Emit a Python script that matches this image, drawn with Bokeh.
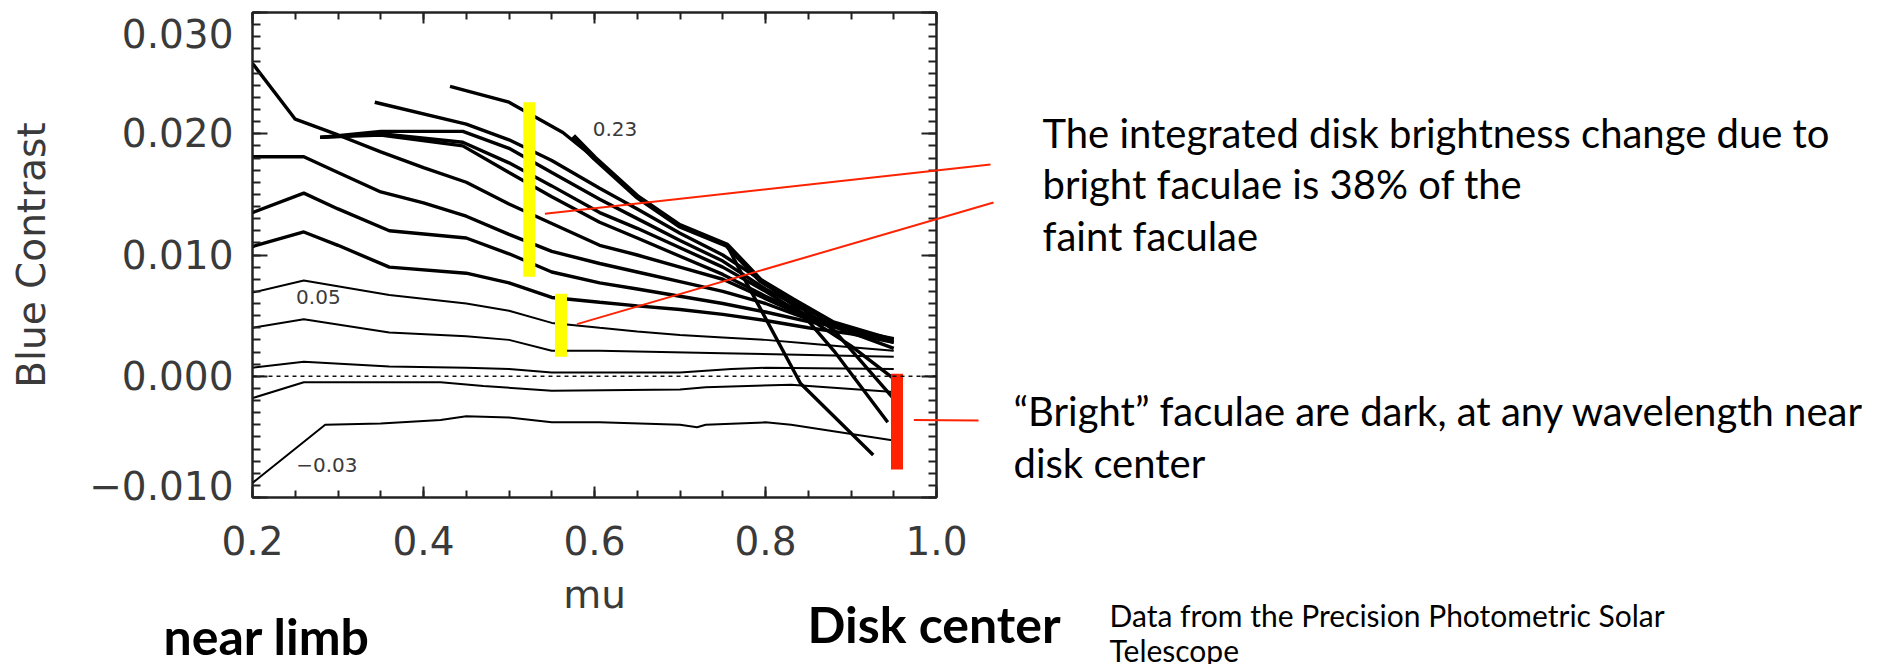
from bokeh.plotting import figure
from bokeh.layouts import column
from bokeh.models import (LinearAxis, FixedTicker, CustomJSTickFormatter, Span,
                          Label, Range1d)
from bokeh.embed import file_html
from bokeh.resources import INLINE

# ---- axis ticks and labels ----
x_major = [0.2, 0.4, 0.6, 0.8, 1.0]
x_major_labels = ["0.2", "0.4", "0.6", "0.8", "1.0"]
x_minor = [round(0.2 + 0.05 * i, 2) for i in range(17)]
y_major = [-0.01, 0.0, 0.01, 0.02, 0.03]
y_major_labels = ["\u22120.010", "0.000", "0.010", "0.020", "0.030"]
y_minor = [round(-0.01 + 0.001 * i, 3) for i in range(41)]

# ---- blue contrast against mu ----
# heavy curves (upper family)
mu_c1 = [0.20, 0.25, 0.30, 0.35, 0.40, 0.45, 0.50, 0.55, 0.606, 0.65, 0.70, 0.75, 0.80, 0.85, 0.90, 0.95]
c1 = [0.0258, 0.0212, 0.0199, 0.0185, 0.0172, 0.0160, 0.0142, 0.0126, 0.0108, 0.0100, 0.0090, 0.0080, 0.0064, 0.0048, 0.0036, 0.0023]

mu_c2 = [0.20, 0.26, 0.30, 0.35, 0.40, 0.45, 0.50, 0.55, 0.606, 0.65, 0.70, 0.75, 0.80, 0.85, 0.90, 0.95]
c2 = [0.0181, 0.0181, 0.0168, 0.0152, 0.0143, 0.0132, 0.0117, 0.0103, 0.0093, 0.0086, 0.0078, 0.0070, 0.0060, 0.0047, 0.0038, 0.0031]

mu_c3 = [0.20, 0.26, 0.30, 0.36, 0.45, 0.50, 0.55, 0.606, 0.65, 0.70, 0.75, 0.80, 0.85, 0.90, 0.95]
c3 = [0.0135, 0.0151, 0.0138, 0.0120, 0.0114, 0.0101, 0.0086, 0.0077, 0.0072, 0.0066, 0.0060, 0.0053, 0.0045, 0.0039, 0.0030]

mu_c4 = [0.20, 0.26, 0.30, 0.36, 0.45, 0.50, 0.55, 0.606, 0.65, 0.70, 0.75, 0.80, 0.85, 0.90, 0.95]
c4 = [0.0107, 0.0119, 0.0108, 0.0090, 0.0085, 0.0077, 0.0065, 0.0061, 0.0058, 0.0055, 0.0051, 0.0046, 0.0040, 0.0035, 0.0028]

mu_c10 = [0.279, 0.35, 0.446, 0.50, 0.55, 0.606, 0.65, 0.70, 0.75, 0.80, 0.84, 0.88, 0.948]
c10 = [0.0197, 0.0202, 0.0202, 0.0188, 0.0168, 0.0146, 0.0130, 0.0112, 0.0095, 0.0072, 0.0057, 0.0038, -0.0017]

mu_c10b = [0.279, 0.35, 0.446, 0.50, 0.55, 0.606, 0.65, 0.70, 0.75, 0.80, 0.85, 0.90, 0.948]
c10b = [0.0197, 0.0200, 0.0193, 0.0176, 0.0157, 0.0135, 0.0122, 0.0106, 0.0090, 0.0070, 0.0048, 0.0025, -0.0001]

mu_c10c = [0.279, 0.35, 0.446, 0.50, 0.55, 0.606, 0.65, 0.70, 0.75, 0.80, 0.85, 0.90, 0.95]
c10c = [0.0197, 0.0199, 0.0190, 0.0168, 0.0148, 0.0127, 0.0114, 0.0099, 0.0084, 0.0066, 0.0050, 0.0038, 0.0028]

mu_c11 = [0.343, 0.45, 0.50, 0.55, 0.606, 0.65, 0.70, 0.75, 0.80, 0.84, 0.88, 0.943]
c11 = [0.0226, 0.0208, 0.0195, 0.0178, 0.0155, 0.0138, 0.0118, 0.0100, 0.0077, 0.0054, 0.0021, -0.0038]

mu_c12 = [0.431, 0.50, 0.563, 0.60, 0.65, 0.70, 0.755, 0.774, 0.841, 0.926]
c12 = [0.0239, 0.0226, 0.0201, 0.0180, 0.0148, 0.0124, 0.0108, 0.0082, -0.0006, -0.0065]

# the 0.23 curve
mu_c23 = [0.575, 0.60, 0.65, 0.70, 0.755, 0.794, 0.832, 0.879, 0.946]
c23 = [0.0198, 0.0180, 0.0148, 0.0124, 0.0108, 0.0079, 0.0063, 0.0044, 0.0030]

# thin curves (lower family)
mu_c5 = [0.20, 0.26, 0.36, 0.45, 0.50, 0.55, 0.606, 0.65, 0.70, 0.75, 0.80, 0.85, 0.90, 0.95]
c5 = [0.0069, 0.0079, 0.0067, 0.0060, 0.0054, 0.0044, 0.0040, 0.0037, 0.0034, 0.0032, 0.0030, 0.0027, 0.0024, 0.0021]

mu_c6 = [0.20, 0.26, 0.36, 0.45, 0.50, 0.55, 0.606, 0.75, 0.95]
c6 = [0.0040, 0.0047, 0.0036, 0.0033, 0.0030, 0.0021, 0.0021, 0.0019, 0.0016]

mu_c7 = [0.20, 0.26, 0.36, 0.45, 0.50, 0.55, 0.70, 0.76, 0.80, 0.95]
c7 = [0.0007, 0.0012, 0.0008, 0.0007, 0.0006, 0.0003, 0.0003, 0.0006, 0.0007, 0.0006]

mu_c8 = [0.20, 0.26, 0.42, 0.47, 0.55, 0.70, 0.73, 0.83, 0.95]
c8 = [-0.0018, -0.0005, -0.0005, -0.0008, -0.0012, -0.0011, -0.0009, -0.0007, -0.0013]

mu_c9 = [0.20, 0.285, 0.35, 0.42, 0.45, 0.50, 0.55, 0.606, 0.70, 0.72, 0.73, 0.80, 0.83, 0.95]
c9 = [-0.0088, -0.0040, -0.0039, -0.0036, -0.0033, -0.0034, -0.0038, -0.0038, -0.0040, -0.0042, -0.0040, -0.0038, -0.0040, -0.0053]

heavy = [(mu_c1, c1), (mu_c2, c2), (mu_c3, c3), (mu_c4, c4), (mu_c10, c10),
         (mu_c10b, c10b), (mu_c10c, c10c), (mu_c11, c11), (mu_c12, c12)]
light = [(mu_c5, c5), (mu_c6, c6), (mu_c7, c7), (mu_c8, c8), (mu_c9, c9)]

# curve tags written on the plot
tag_text = ["0.23", "0.05", "\u22120.03"]
tag_mu = [0.624, 0.277, 0.287]
tag_val = [0.0204, 0.0065, -0.0073]

# highlight bars (mu centre, bottom, top)
yellow_mu = [0.5237, 0.5608]
yellow_bottom = [0.0082, 0.0016]
yellow_top = [0.0226, 0.0068]
red_mu = [0.9538]
red_bottom = [-0.0077]
red_top = [0.0002]

# leader lines: start next to a bar (mu, contrast), end beside a note (page px)
leader_mu = [0.542, 0.5795, 0.9735]
leader_val = [0.0134, 0.0043, -0.0036]
leader_end_x = [990, 993, 978]
leader_end_y = [164, 202, 420]

# notes around the chart: text, left x, centre y (page px), weight, size
notes = [
    ("The integrated disk brightness change due to", 1042, 132, "normal", 40),
    ("bright faculae is 38% of the", 1042, 183, "normal", 40),
    ("faint faculae", 1042, 235, "normal", 40),
    ("\u201cBright\u201d faculae are dark, at any wavelength near", 1013, 410, "normal", 40),
    ("disk center", 1013, 462, "normal", 40),
    ("near limb", 163, 635, "bold", 50),
    ("Disk center", 807, 623, "bold", 50),
    ("Data from the Precision Photometric Solar", 1109, 614, "normal", 30),
    ("Telescope", 1109, 649, "normal", 30),
]

W, H = 1895, 664
LEFT, RIGHT, TOP, BOTTOM = 252, 959, 12, 167
X0, X1, Y0, Y1 = 0.2, 1.0, -0.010, 0.030
px_per_x = (W - LEFT - RIGHT) / (X1 - X0)
px_per_y = (H - TOP - BOTTOM) / (Y1 - Y0)


def page_x(mu):
    return LEFT + (mu - X0) * px_per_x


def page_y(v):
    return TOP + (Y1 - v) * px_per_y


AXIS_FONT = "DejaVu Sans"
AXIS_COLOR = "#3a3a3a"
NOTE_FONT = "Lato"

p = figure(width=W, height=H, output_backend="svg", toolbar_location=None,
           x_range=Range1d(X0, X1), y_range=Range1d(Y0, Y1),
           x_axis_location=None, y_axis_location=None,
           min_border_left=LEFT, min_border_right=RIGHT,
           min_border_top=TOP, min_border_bottom=BOTTOM,
           background_fill_color="white", border_fill_color="white")
p.grid.visible = False
p.outline_line_color = "#222222"
p.outline_line_width = 2


def fmt(tvals, tlabels, shift_ends):
    # the extreme labels sit just inside the frame, as in the original plot
    return CustomJSTickFormatter(args=dict(tvals=tvals, tlabels=tlabels, shift=shift_ends), code="""
        let best = 0, d = 1e9;
        for (let i = 0; i < tvals.length; i++) {
            const e = Math.abs(tvals[i] - tick);
            if (e < d) { d = e; best = i; }
        }
        const s = tlabels[best];
        if (shift && best == tvals.length - 1) return "\\n" + s;
        if (shift && best == 0) return s + "\\n\\n";
        return s;
    """)


def style_axis(ax, major_in, minor_in, show_labels):
    ax.axis_line_color = "#222222"
    ax.axis_line_width = 2
    ax.major_tick_in = major_in
    ax.major_tick_out = 0
    ax.minor_tick_in = minor_in
    ax.minor_tick_out = 0
    ax.major_tick_line_color = "#222222"
    ax.minor_tick_line_color = "#222222"
    ax.major_tick_line_width = 2
    ax.minor_tick_line_width = 2
    if not show_labels:
        ax.formatter = CustomJSTickFormatter(code="return '';")
        ax.major_label_text_font_size = "1px"
        ax.major_label_standoff = 0


xticker = FixedTicker(ticks=x_major, minor_ticks=x_minor)
yticker = FixedTicker(ticks=y_major, minor_ticks=y_minor)

xb = LinearAxis(ticker=xticker, formatter=fmt(x_major, x_major_labels, False), axis_label="mu")
style_axis(xb, 11, 7, True)
xb.major_label_text_font = AXIS_FONT
xb.major_label_text_font_size = "39px"
xb.major_label_text_color = AXIS_COLOR
xb.major_label_standoff = 28
xb.axis_label_text_font = AXIS_FONT
xb.axis_label_text_font_size = "39px"
xb.axis_label_text_font_style = "normal"
xb.axis_label_text_color = AXIS_COLOR
xb.axis_label_standoff = 14
p.add_layout(xb, "below")

xt = LinearAxis(ticker=xticker)
style_axis(xt, 11, 7, False)
p.add_layout(xt, "above")

yl = LinearAxis(ticker=yticker, formatter=fmt(y_major, y_major_labels, True), axis_label="Blue Contrast")
style_axis(yl, 15, 8, True)
yl.major_label_text_font = AXIS_FONT
yl.major_label_text_font_size = "39px"
yl.major_label_text_color = AXIS_COLOR
yl.major_label_text_line_height = 0.25
yl.major_label_standoff = 19
yl.axis_label_text_font = AXIS_FONT
yl.axis_label_text_font_size = "39px"
yl.axis_label_text_font_style = "normal"
yl.axis_label_text_color = AXIS_COLOR
yl.axis_label_standoff = 32
p.add_layout(yl, "left")

yr = LinearAxis(ticker=yticker)
style_axis(yr, 15, 8, False)
p.add_layout(yr, "right")

# zero reference
p.add_layout(Span(location=0.0, dimension="width", line_color="#111111",
                  line_width=1.6, line_dash="4 4"))

# curves
for mu, c in light:
    p.line(mu, c, line_color="black", line_width=2)
for mu, c in heavy:
    p.line(mu, c, line_color="black", line_width=3.4)
p.line(mu_c23, c23, line_color="black", line_width=5.5)

# tags on curves
for t, m, v in zip(tag_text, tag_mu, tag_val):
    p.add_layout(Label(x=m, y=v, text=t, text_font=AXIS_FONT, text_font_size="20px",
                       text_color=AXIS_COLOR, text_align="center", text_baseline="middle"))

# highlight bars
bw = 12 / px_per_x
p.vbar(x=yellow_mu, bottom=yellow_bottom, top=yellow_top, width=bw,
       fill_color="#ffff00", line_color=None)
p.vbar(x=red_mu, bottom=red_bottom, top=red_top, width=bw,
       fill_color="#ff2200", line_color=None)

# ---- transparent page-sized layer on top for the notes and their leader lines ----
ov = figure(width=W, height=H, output_backend="svg", toolbar_location=None,
            x_range=Range1d(0, W), y_range=Range1d(H, 0),
            x_axis_location=None, y_axis_location=None,
            min_border=0, min_border_left=0, min_border_right=0,
            min_border_top=0, min_border_bottom=0,
            background_fill_alpha=0, border_fill_alpha=0)
ov.outline_line_color = None
ov.grid.visible = False
ov.styles = {"position": "absolute", "left": "0px", "top": "0px"}
# the two layers keep their own frames
p.frame_align = False
ov.frame_align = False

ov.segment(x0=[page_x(m) for m in leader_mu], y0=[page_y(v) for v in leader_val],
           x1=leader_end_x, y1=leader_end_y, line_color="#ff2200", line_width=2)

for text, px, py, style, size in notes:
    ov.add_layout(Label(x=px, y=py, text=text, text_font=NOTE_FONT,
                        text_font_size=f"{size}px", text_font_style=style,
                        text_color="black", text_align="left", text_baseline="middle"))

page = column(p, ov)
page.styles = {"position": "relative"}

open("out.html", "w").write(file_html(page, INLINE))
